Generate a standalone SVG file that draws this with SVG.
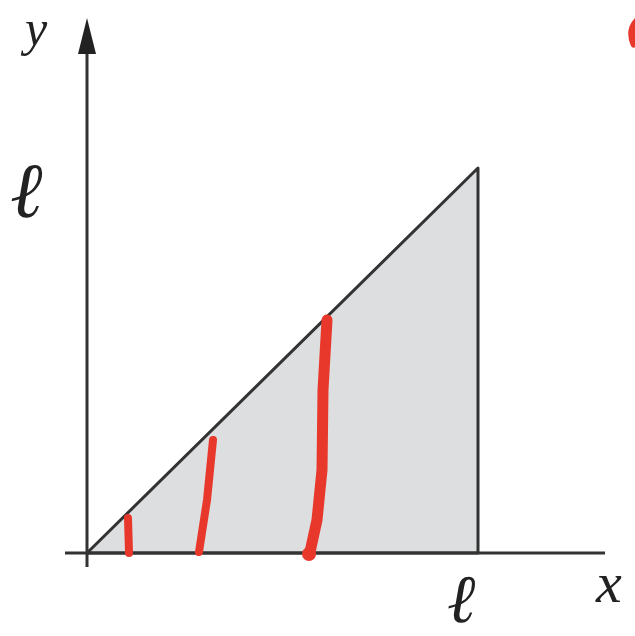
<svg xmlns="http://www.w3.org/2000/svg" width="635" height="636" viewBox="0 0 635 636">
<style>
.ax{stroke:#333;stroke-width:3;fill:none}
.lbl{font-family:"Liberation Serif","DejaVu Serif",serif;font-style:italic;fill:#222}
.red{stroke:#e8382c;fill:none;stroke-linecap:round;stroke-linejoin:round}
</style>
<rect width="635" height="636" fill="#fff"/>
<g id="triangle">
<polygon points="87,553 478,168 478,553" fill="#dcdedf" stroke="#333" stroke-width="3" stroke-linejoin="round"/>
</g>
<g id="connectors">
<line class="ax" x1="65" y1="553" x2="605" y2="553"/>
<line class="ax" x1="87" y1="567" x2="87" y2="48"/>
<polygon points="87,18 78,54 96,54" fill="#222"/>
</g>
<g id="red-strokes">
<path class="red" stroke-width="8" d="M128,518 L129,553"/>
<path class="red" stroke-width="8" d="M213,440 L207,500 L199,552"/>
<path class="red" stroke-width="11" d="M327,320 L323,390 L322,470 L317,520 L310,552"/>
<circle cx="309" cy="554" r="7" fill="#e8382c"/>
<path class="red" stroke-width="7" d="M638,20 Q628,30 634,44"/>
</g>
<g id="labels">
<text class="lbl" x="25" y="45" font-size="50">y</text>
<text class="lbl" x="10" y="217" font-size="78">ℓ</text>
<text class="lbl" x="447" y="622" font-size="68">ℓ</text>
<text class="lbl" x="596" y="602" font-size="58">x</text>
</g>
</svg>
